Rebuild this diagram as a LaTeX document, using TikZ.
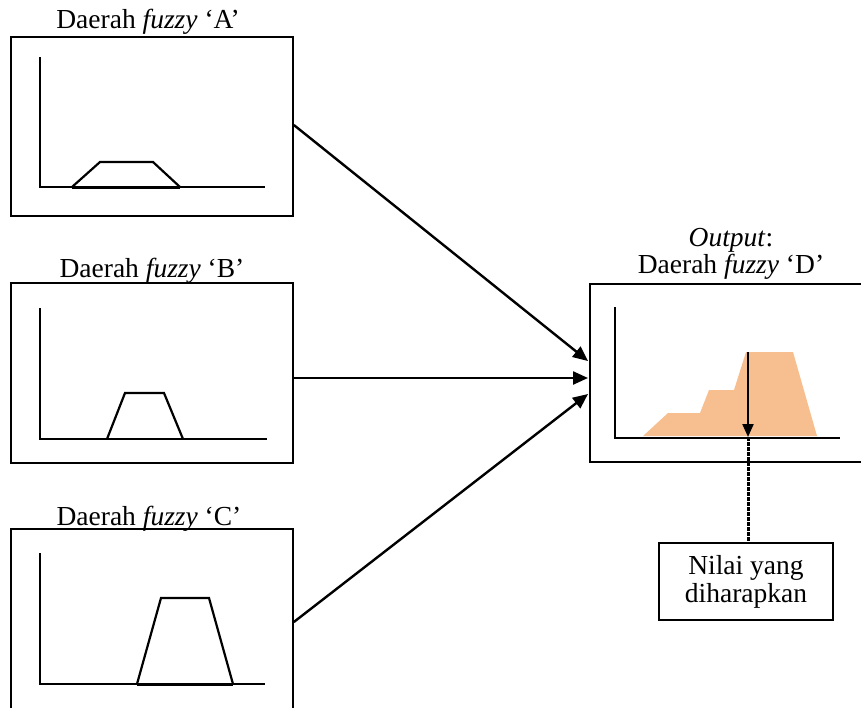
\documentclass[tikz,border=0pt]{standalone}
\usepackage{fontspec}
\setmainfont{Liberation Serif}
\usetikzlibrary{arrows.meta}
\definecolor{fuzzorange}{RGB}{247,191,143}
\begin{document}
\begin{tikzpicture}[x=1pt,y=-1pt,
  panel/.style={draw, line width=1.7pt, minimum width=282pt, inner sep=0pt},
  axis/.style={line width=1.7pt},
  trap/.style={line width=2.2pt, line join=miter},
  lbl/.style={anchor=base, inner sep=0pt, font=\fontsize{27.5}{29}\selectfont},
  conn/.style={line width=2.4pt, -{Triangle[length=15pt,width=13pt]}},
  dotline/.style={line width=3pt, dash pattern=on 3.5pt off 1.5pt},
  resbox/.style={draw, line width=1.7pt, minimum width=174pt, minimum height=77pt, inner sep=0pt, align=center, font=\fontsize{27.5}{28}\selectfont}
]
\useasboundingbox (0,0) rectangle (861,707);
% panels
\node[panel, minimum height=179pt] (A) at (152,126.5) {};
\node[panel, minimum height=180pt] (B) at (152,373) {};
\node[panel, minimum height=200pt] (C) at (152,629) {};
\node[draw, line width=1.7pt, minimum width=272pt, minimum height=178pt, inner sep=0pt] (D) at (726,373) {};
% titles
\node[lbl] (tA) at (148,28) {Daerah \textit{fuzzy} ‘A’};
\node[lbl] (tB) at (152,277) {Daerah \textit{fuzzy} ‘B’};
\node[lbl] (tC) at (149,525) {Daerah \textit{fuzzy} ‘C’};
\node[lbl] (tD1) at (731,246) {\textit{Output}:};
\node[lbl] (tD2) at (731,273) {Daerah \textit{fuzzy} ‘D’};
% axes A
\draw[axis] (40,57) -- (40,187) -- (265,187);
\draw[trap] (72,187) -- (100,162) -- (153,162) -- (180,187);
\draw[line width=3pt] (72,187) -- (180,187);
% axes B
\draw[axis] (40,308) -- (40,439) -- (267,439);
\draw[trap] (107,439) -- (125,393) -- (164,393) -- (183,439);
\draw[line width=2.6pt] (107,439) -- (183,439);
% axes C
\draw[axis] (40,553) -- (40,684) -- (265,684);
\draw[trap] (137,684) -- (161,598) -- (209,598) -- (233,684);
\draw[line width=3pt] (137,684) -- (233,684);
% output
\fill[fuzzorange] (643,436) -- (668,413) -- (700,413) -- (709,390) -- (734,390) -- (746,352) -- (793,352) -- (817,436) -- cycle;
\draw[axis] (615,307) -- (615,438) -- (840,438);
\coordinate (ctop) at (748,352);
\coordinate (cbot) at (748,437);
\draw[line width=2.2pt, -{Triangle[length=13pt,width=11pt]}] (ctop) -- (cbot);
% result box
\node[resbox] (N) at (746,581.5) {\raisebox{-4pt}{Nilai yang}\\\raisebox{-4pt}{diharapkan}};
\draw[dotline] (cbot) -- (cbot |- N.north);
% connectors
\coordinate (inA) at (588,361);
\coordinate (inB) at (588,378);
\coordinate (inC) at (588,394);
\draw[conn] (A.east |- 0,125) -- (inA);
\draw[conn] (B.east |- inB) -- (inB);
\draw[conn] (C.east |- 0,622) -- (inC);
\end{tikzpicture}
\end{document}
